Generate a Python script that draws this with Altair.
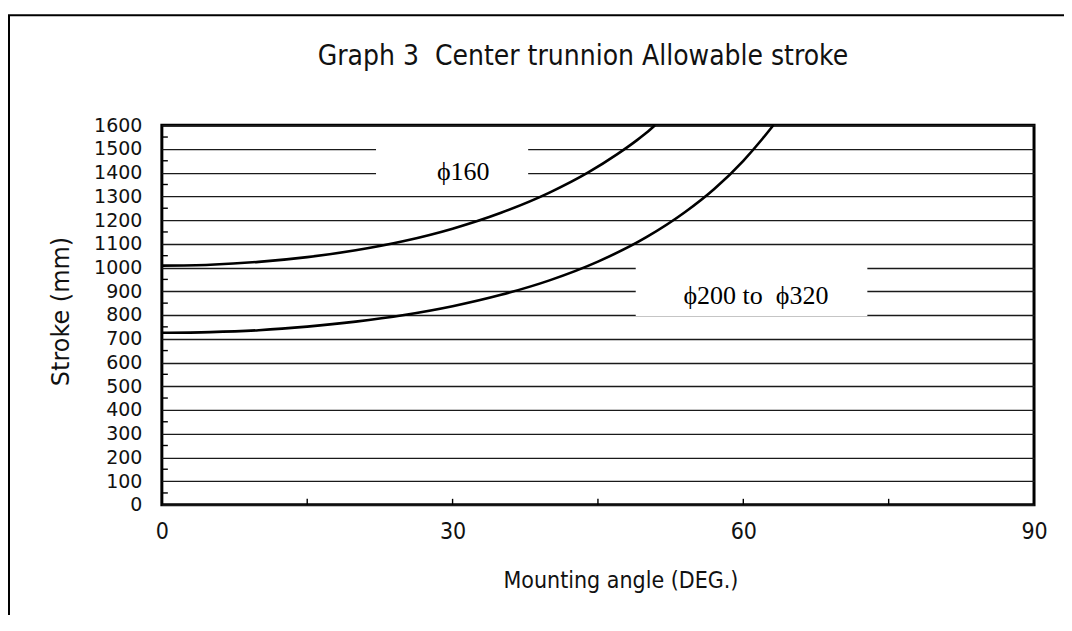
import altair as alt
import pandas as pd

# ---- data ----
angle_160 = [0, 5, 10, 15, 20, 25, 30, 35, 40, 44, 47, 49, 50, 50.9]
stroke_160 = [1008, 1012, 1024, 1044, 1073, 1112, 1164, 1231, 1316, 1401, 1478, 1536, 1568, 1600]

angle_200 = [0, 5, 10, 15, 20, 25, 30, 35, 40, 45, 50, 54, 57, 60, 62, 63.1]
stroke_200 = [725, 728, 736, 751, 772, 800, 837, 885, 946, 1025, 1128, 1234, 1331, 1450, 1544, 1600]

series_names = ["phi160", "phi200-320"]

label_texts = ["\u03d5160", "\u03d5200 to\u00a0 \u03d5320"]
label_angle = [31.1, 61.3]
label_stroke = [1403, 878]
box_angle_from = [22.1, 48.9]
box_angle_to = [37.8, 72.8]
box_stroke_from = [1345, 796]
box_stroke_to = [1590, 1055]

y_ticks = list(range(0, 1700, 100))
y_minor = list(range(50, 1600, 100))
x_ticks = [0, 30, 60, 90]
x_minor = [15, 30, 45, 60, 75]

W, H = 873, 380

curves = pd.DataFrame({
    "angle": angle_160 + angle_200,
    "stroke": stroke_160 + stroke_200,
    "series": [series_names[0]] * len(angle_160) + [series_names[1]] * len(angle_200),
})
labels = pd.DataFrame({"text": label_texts, "angle": label_angle, "stroke": label_stroke})
boxes = pd.DataFrame({"angle": box_angle_from, "angle2": box_angle_to,
                      "stroke": box_stroke_from, "stroke2": box_stroke_to})
yminor = pd.DataFrame({"stroke": y_minor})
xminor = pd.DataFrame({"angle": x_minor})
one = pd.DataFrame({"k": [0]})

xs = alt.Scale(domain=[0, 90], nice=False, zero=False)
ys = alt.Scale(domain=[0, 1600], nice=False, zero=False)

cond = "DejaVu Sans Condensed, Liberation Sans Narrow, DejaVu Sans"

x_axis = alt.Axis(
    values=x_ticks, title="Mounting angle (DEG.)", grid=False, domain=False,
    ticks=False, tickSize=0, labelPadding=16, labelFlush=False, labelFont=cond,
    labelFontSize=23, labelColor="#111", titleFont=cond, titleFontSize=23,
    titleFontWeight="normal", titleColor="#111", titleX=459, titleY=76,
    titleBaseline="middle", titleAlign="center")
y_axis = alt.Axis(
    values=y_ticks, format="d", title="Stroke (mm)", grid=True, gridColor="#1a1a1a",
    gridWidth=1.4, domain=False, ticks=False, tickSize=0, labelPadding=20,
    labelFont="DejaVu Sans", labelFontSize=19, labelColor="#111", titleFont="DejaVu Sans",
    titleFontSize=24, titleFontWeight="normal", titleColor="#111", titleX=-100, titleY=186,
    titleAngle=270, titleBaseline="middle", titleAlign="center")

X = alt.X("angle:Q", scale=xs, axis=x_axis)
Y = alt.Y("stroke:Q", scale=ys, axis=y_axis)

box_layer = alt.Chart(boxes).mark_rect(fill="white", strokeWidth=0).encode(
    x=X, x2="angle2:Q", y=Y, y2="stroke2:Q",
)

curve_layer = alt.Chart(curves).mark_line(color="black", strokeWidth=2.6, interpolate="monotone").encode(
    x=X, y=Y, detail="series:N",
)

text_layer = alt.Chart(labels).mark_text(
    font="Liberation Serif, DejaVu Serif", fontSize=26, color="black", align="center", baseline="middle"
).encode(x=X, y=Y, text="text:N")

ytick_layer = alt.Chart(yminor).mark_rule(color="black", strokeWidth=1.4).encode(
    x=alt.value(0), x2=alt.value(6), y=Y
)
xtick_layer = alt.Chart(xminor).mark_rule(color="black", strokeWidth=1.4).encode(
    x=X, y=alt.value(H), y2=alt.value(H - 6)
)

frame_left = alt.Chart(one).mark_rule(color="black", strokeWidth=2).encode(
    x=alt.value(-153), y=alt.value(-110), y2=alt.value(H + 120)
)
frame_top = alt.Chart(one).mark_rule(color="black", strokeWidth=2).encode(
    x=alt.value(-154), x2=alt.value(W + 40), y=alt.value(-110)
)

chart = alt.layer(
    box_layer, curve_layer, text_layer, ytick_layer, xtick_layer, frame_left, frame_top
).properties(
    width=W, height=H,
    autosize=alt.AutoSizeParams(type="none"),
    padding={"left": 154, "top": 117, "right": 30, "bottom": 110},
    title=alt.TitleParams(
        text="Graph 3\u00a0 Center trunnion Allowable stroke",
        font=cond, fontSize=28, fontWeight="normal", color="#111",
        anchor="middle", frame="group", offset=0, baseline="middle", dx=-15, dy=71,
    ),
).configure_view(
    stroke="black", strokeWidth=3
)

chart.save("out.html", embed_options={"renderer": "svg", "actions": False})
